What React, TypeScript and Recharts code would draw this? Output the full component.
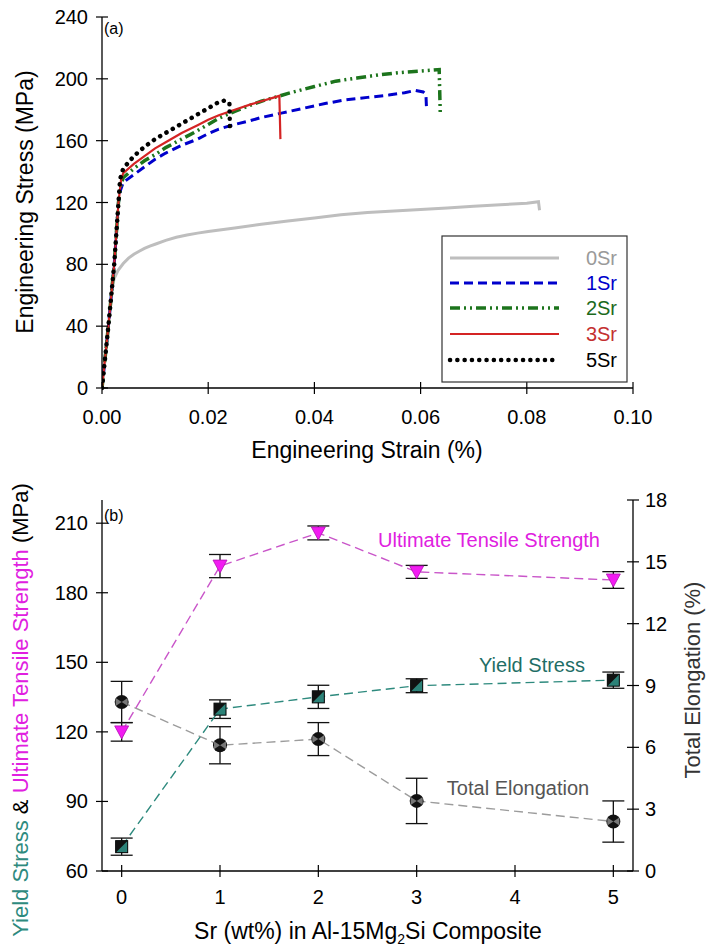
import React from 'react';
import { ComposedChart, LineChart, Line, XAxis, YAxis, ErrorBar } from 'recharts';

const FONT = '"Liberation Sans", Arial, Helvetica, sans-serif';

// ---- (a) stress-strain curves ----
const strainTicks = [0, 0.02, 0.04, 0.06, 0.08, 0.1];
const stressTicks = [0, 40, 80, 120, 160, 200, 240];

const sr0Strain = [0, 0.001, 0.002, 0.0023, 0.003, 0.004, 0.005, 0.006, 0.007, 0.008, 0.009, 0.01, 0.012, 0.014, 0.016, 0.018, 0.02, 0.025, 0.03, 0.035, 0.04, 0.045, 0.05, 0.055, 0.06, 0.065, 0.07, 0.075, 0.08, 0.0822, 0.0824];
const sr0Stress = [0, 33, 66, 71, 76, 80.5, 84, 86.5, 88.5, 90.3, 91.8, 93, 95.5, 97.5, 99, 100.2, 101.2, 103.5, 106, 108, 110, 112, 113.5, 114.5, 115.5, 116.5, 117.5, 118.5, 119.5, 120.5, 115];

const sr1Strain = [0, 0.0012, 0.0023, 0.0031, 0.0035, 0.004, 0.006, 0.008, 0.01, 0.012, 0.015, 0.018, 0.02, 0.022, 0.025, 0.028, 0.03, 0.034, 0.038, 0.042, 0.046, 0.05, 0.054, 0.057, 0.059, 0.0605, 0.061, 0.0611];
const sr1Stress = [0, 40, 80, 120, 128, 133, 138, 143, 148, 152, 157, 161, 164.5, 167.5, 170.5, 173, 175, 178, 181, 184, 186.5, 188, 189.5, 191, 192.5, 191.5, 190, 182];

const sr2Strain = [0, 0.0012, 0.0023, 0.0031, 0.0036, 0.004, 0.006, 0.008, 0.01, 0.012, 0.015, 0.018, 0.02, 0.022, 0.025, 0.028, 0.03, 0.033, 0.036, 0.04, 0.044, 0.048, 0.052, 0.056, 0.06, 0.0635, 0.0637];
const sr2Stress = [0, 40, 80, 120, 132, 136, 142, 147, 151, 155.5, 161, 166.5, 170.5, 174.5, 179, 183, 185.5, 188.5, 191.5, 195, 198.5, 200.5, 202.5, 204, 205, 206, 178];

const sr3Strain = [0, 0.0012, 0.0023, 0.0031, 0.0036, 0.004, 0.006, 0.008, 0.01, 0.012, 0.015, 0.018, 0.02, 0.022, 0.025, 0.028, 0.03, 0.032, 0.0334, 0.0336];
const sr3Stress = [0, 40, 80, 120, 135, 139, 145, 150, 155, 159, 165, 170, 173.5, 176.5, 180, 183.5, 185.5, 187.5, 189, 161];

const sr5Strain = [0, 0.0012, 0.0023, 0.0031, 0.0034, 0.004, 0.006, 0.008, 0.01, 0.012, 0.014, 0.016, 0.018, 0.02, 0.022, 0.0232, 0.024, 0.0241];
const sr5Stress = [0, 40, 80, 120, 135, 142, 150, 156, 161, 165, 169, 173, 177, 181, 185, 186, 184, 166];

// ---- (b) properties vs Sr content ----
const srContent = [0, 1, 2, 3, 5];
const srTicks = [0, 1, 2, 3, 4, 5];
const yieldStress = [70.5, 129.8, 135.1, 139.9, 142.3];
const yieldErr = [3.7, 4, 5, 3, 3.5];
const uts = [120, 191.5, 205.8, 189, 185.5];
const utsErr = [4, 5, 3, 2.8, 3.6];
const elongation = [8.2, 6.1, 6.4, 3.4, 2.4];
const elongationErr = [1.0, 0.9, 0.8, 1.1, 1.0];
const mpaTicks = [60, 90, 120, 150, 180, 210];
const elongTicks = [0, 3, 6, 9, 12, 15, 18];

const zip = (xs: number[], ys: number[]) => xs.map((x, i) => ({ x, y: ys[i] }));

const curves = [
  { name: '0Sr', data: zip(sr0Strain, sr0Stress), color: '#BEBEBE', label: '#9A9A9A', width: 3, dash: undefined, cap: 'butt' },
  { name: '1Sr', data: zip(sr1Strain, sr1Stress), color: '#0000CC', label: '#0000CC', width: 3, dash: '9 5', cap: 'butt' },
  { name: '2Sr', data: zip(sr2Strain, sr2Stress), color: '#1C741C', label: '#1C6A1C', width: 3.5, dash: '10 4 2 4 2 4', cap: 'butt' },
  { name: '3Sr', data: zip(sr3Strain, sr3Stress), color: '#D42424', label: '#C43030', width: 2.2, dash: undefined, cap: 'butt' },
  { name: '5Sr', data: zip(sr5Strain, sr5Stress), color: '#000000', label: '#000000', width: 4.5, dash: '0.1 7.2', cap: 'round' },
];

const bData = srContent.map((sr, i) => ({
  sr,
  ys: yieldStress[i],
  ysErr: yieldErr[i],
  uts: uts[i],
  utsErr: utsErr[i],
  el: elongation[i],
  elErr: elongationErr[i],
}));

const XTick = (props: any) => {
  const { x, y, payload, fmt, dy } = props;
  return (
    <g>
      <line x1={x} x2={x} y1={y - 6} y2={y + 6} stroke="#000" strokeWidth={1.2} />
      <text x={x} y={y + dy} textAnchor="middle" fontSize={20} fontFamily={FONT} fill="#000">
        {fmt ? fmt(payload.value) : payload.value}
      </text>
    </g>
  );
};

const YTick = (props: any) => {
  const { x, y, payload, side } = props;
  const right = side === 'right';
  return (
    <g>
      <line x1={x - 6} x2={x + 6} y1={y} y2={y} stroke="#000" strokeWidth={1.2} />
      <text x={right ? x + 12 : x - 14} y={y + 7} textAnchor={right ? 'start' : 'end'} fontSize={20} fontFamily={FONT} fill="#000">
        {payload.value}
      </text>
    </g>
  );
};

const TriDown = (props: any) => {
  const { cx, cy, index } = props;
  return (
    <polygon key={`t${index}`} points={`${cx - 7},${cy - 6} ${cx + 7},${cy - 6} ${cx},${cy + 7}`} fill="#F21CF2" stroke="#B010B0" strokeWidth={0.8} />
  );
};

const HalfSquare = (props: any) => {
  const { cx, cy, index } = props;
  return (
    <g key={`s${index}`}>
      <rect x={cx - 6} y={cy - 6} width={12} height={12} fill="#2C8278" stroke="#000" strokeWidth={1} />
      <polygon points={`${cx - 6},${cy - 6} ${cx + 6},${cy - 6} ${cx - 6},${cy + 6}`} fill="#111" />
    </g>
  );
};

const CrossCircle = (props: any) => {
  const { cx, cy, index } = props;
  return (
    <g key={`c${index}`}>
      <circle cx={cx} cy={cy} r={7} fill="#111" />
      <polygon points={`${cx},${cy} ${cx - 6},${cy - 4} ${cx - 6},${cy + 4}`} fill="#777" />
      <polygon points={`${cx},${cy} ${cx + 6},${cy - 4} ${cx + 6},${cy + 4}`} fill="#777" />
    </g>
  );
};

const axisLine = { stroke: '#000', strokeWidth: 1.3 };

function StressStrainChart() {
  return (
    <LineChart width={711} height={475} margin={{ top: 17, right: 78, bottom: 0, left: 0 }}>
      <XAxis
        dataKey="x"
        type="number"
        domain={[0, 0.1]}
        ticks={strainTicks}
        allowDataOverflow
        height={87}
        tickSize={0}
        tickMargin={0}
        tickLine={false}
        axisLine={axisLine}
        tick={(p: any) => <XTick {...p} dy={36} fmt={(v: number) => v.toFixed(2)} />}
      />
      <XAxis xAxisId="top" orientation="top" type="number" domain={[0, 0.1]} height={0} tick={false} tickLine={false} axisLine={axisLine} />
      <YAxis
        type="number"
        domain={[0, 240]}
        ticks={stressTicks}
        width={102}
        tickSize={0}
        tickMargin={0}
        tickLine={false}
        axisLine={axisLine}
        tick={(p: any) => <YTick {...p} />}
      />
      <YAxis yAxisId="r" orientation="right" type="number" domain={[0, 240]} width={0} tick={false} tickLine={false} axisLine={axisLine} />
      {curves.map((c) => (
        <Line
          key={c.name}
          data={c.data}
          dataKey="y"
          type="linear"
          stroke={c.color}
          strokeWidth={c.width}
          strokeDasharray={c.dash}
          strokeLinecap={c.cap as any}
          dot={false}
          activeDot={false}
          isAnimationActive={false}
        />
      ))}
    </LineChart>
  );
}

function PropertiesChart() {
  return (
    <ComposedChart width={711} height={475} data={bData} margin={{ top: 25, right: 0, bottom: 0, left: 0 }}>
      <XAxis
        dataKey="sr"
        type="number"
        domain={[-0.2, 5.2]}
        ticks={srTicks}
        allowDataOverflow
        height={79}
        tickSize={0}
        tickMargin={0}
        tickLine={false}
        axisLine={axisLine}
        tick={(p: any) => <XTick {...p} dy={33} />}
      />
      <XAxis xAxisId="top" orientation="top" type="number" domain={[-0.2, 5.2]} height={0} tick={false} tickLine={false} axisLine={axisLine} />
      <YAxis
        yAxisId="left"
        type="number"
        domain={[60, 220]}
        ticks={mpaTicks}
        width={102}
        tickSize={0}
        tickMargin={0}
        tickLine={false}
        axisLine={axisLine}
        tick={(p: any) => <YTick {...p} />}
      />
      <YAxis
        yAxisId="right"
        orientation="right"
        type="number"
        domain={[0, 18]}
        ticks={elongTicks}
        width={78}
        tickSize={0}
        tickMargin={0}
        tickLine={false}
        axisLine={axisLine}
        tick={(p: any) => <YTick {...p} side="right" />}
      />
      <Line yAxisId="right" dataKey="el" stroke="#9C9C9C" strokeWidth={1.4} strokeDasharray="9 5" dot={(p: any) => <CrossCircle {...p} />} activeDot={false} isAnimationActive={false}>
        <ErrorBar dataKey="elErr" width={11} stroke="#111" strokeWidth={1.3} direction="y" isAnimationActive={false} />
      </Line>
      <Line yAxisId="left" dataKey="ys" stroke="#2E8A7E" strokeWidth={1.4} strokeDasharray="9 5" dot={(p: any) => <HalfSquare {...p} />} activeDot={false} isAnimationActive={false}>
        <ErrorBar dataKey="ysErr" width={11} stroke="#111" strokeWidth={1.3} direction="y" isAnimationActive={false} />
      </Line>
      <Line yAxisId="left" dataKey="uts" stroke="#C955C9" strokeWidth={1.4} strokeDasharray="9 5" dot={(p: any) => <TriDown {...p} />} activeDot={false} isAnimationActive={false}>
        <ErrorBar dataKey="utsErr" width={11} stroke="#111" strokeWidth={1.3} direction="y" isAnimationActive={false} />
      </Line>
    </ComposedChart>
  );
}

function Overlay() {
  const rows = [258, 283, 308, 334, 360];
  return (
    <svg width={711} height={950} style={{ position: 'absolute', left: 0, top: 0, pointerEvents: 'none' }} fontFamily={FONT}>
      {/* panel (a) */}
      <text x={104} y={34} fontSize={16} fill="#000">(a)</text>
      <text transform="translate(33, 202) rotate(-90)" textAnchor="middle" fontSize={23} fill="#000">Engineering Stress (MPa)</text>
      <text x={367} y={458} textAnchor="middle" fontSize={23} fill="#000">Engineering Strain (%)</text>
      <rect x={442} y={236} width={185} height={146} fill="#fff" stroke="#333" strokeWidth={1.2} />
      {curves.map((c, i) => (
        <g key={c.name}>
          <line x1={450} x2={559} y1={rows[i]} y2={rows[i]} stroke={c.color} strokeWidth={c.width} strokeDasharray={c.dash} strokeLinecap={c.cap as any} />
          <text x={617} y={rows[i] + 7} textAnchor="end" fontSize={20} fill={c.label}>{c.name}</text>
        </g>
      ))}
      {/* panel (b) */}
      <text x={104} y={521} fontSize={16} fill="#000">(b)</text>
      <text x={489} y={547} textAnchor="middle" fontSize={20} fill="#E020E0">Ultimate Tensile Strength</text>
      <text x={532} y={672} textAnchor="middle" fontSize={20} fill="#1F6E66">Yield Stress</text>
      <text x={518} y={795} textAnchor="middle" fontSize={20} fill="#555">Total Elongation</text>
      <text transform="translate(28, 710) rotate(-90)" textAnchor="middle" fontSize={22}>
        <tspan fill="#2E8A7E">Yield Stress</tspan>
        <tspan fill="#000"> &amp; </tspan>
        <tspan fill="#E020E0">Ultimate Tensile Strength</tspan>
        <tspan fill="#000"> (MPa)</tspan>
      </text>
      <text transform="translate(700, 680) rotate(-90)" textAnchor="middle" fontSize={22} fill="#333">Total Elongation (%)</text>
      <text x={368} y={939} textAnchor="middle" fontSize={23} fill="#000">
        Sr (wt%) in Al-15Mg<tspan fontSize={14} dy={5}>2</tspan><tspan dy={-5}>Si Composite</tspan>
      </text>
    </svg>
  );
}

export default function App() {
  return (
    <div style={{ position: 'absolute', left: 0, top: 0, width: 711, height: 950, background: '#fff', fontFamily: FONT }}>
      <StressStrainChart />
      <PropertiesChart />
      <Overlay />
    </div>
  );
}
